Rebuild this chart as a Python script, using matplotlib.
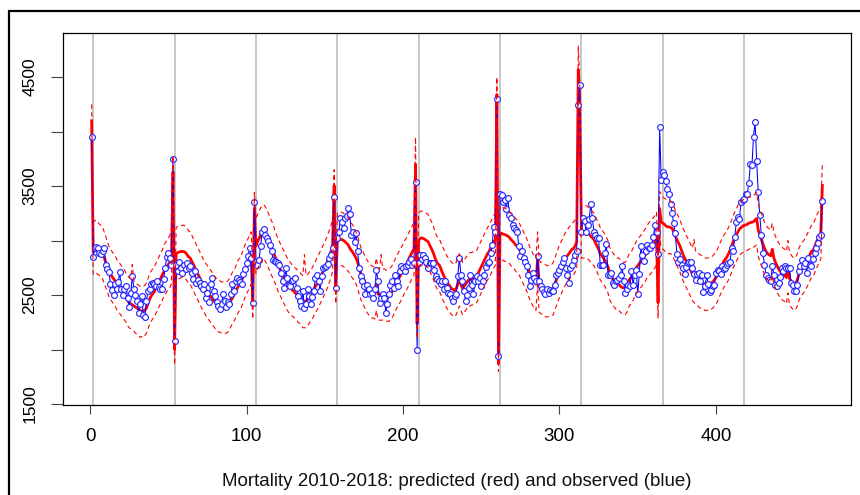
#!/usr/bin/env python
"""Weekly mortality 2010-2018: model prediction with its band against observed deaths."""

from pathlib import Path

import matplotlib

matplotlib.use("Agg")
import matplotlib.pyplot as plt
import numpy as np
from matplotlib.patches import Rectangle


OUTPUT_PATH = Path("out.png")

# observed weekly deaths, one block of 52 weeks per year
OBSERVED = [
    3950, 2850, 2930, 2940, 2930, 2885, 2880, 2900, 2935, 2780, 2740, 2712, 2603,
    2550, 2497, 2600, 2555, 2620, 2710, 2555, 2505, 2560, 2580, 2470, 2390, 2520,
    2673, 2560, 2505, 2450, 2340, 2420, 2495, 2315, 2300, 2445, 2537, 2560, 2600,
    2615, 2600, 2585, 2627, 2570, 2560, 2555, 2645, 2750, 2846, 2885, 2840, 2780,
    3750, 2080, 2780, 2720, 2800, 2750, 2700, 2780, 2740, 2790, 2750, 2765, 2700,
    2650, 2720, 2610, 2640, 2610, 2580, 2560, 2600, 2476, 2520, 2440, 2600, 2658,
    2540, 2490, 2440, 2400, 2370, 2420, 2510, 2450, 2390, 2440, 2420, 2510, 2600,
    2540, 2630, 2658, 2640, 2620, 2600, 2690, 2740, 2794, 2860, 2930, 2840, 2430,
    3355, 2800, 2779, 2825, 2950, 3082, 3106, 3052, 3020, 2997, 2960, 2900, 2825,
    2810, 2800, 2794, 2779, 2700, 2627, 2567, 2749, 2658, 2597, 2582, 2627, 2640,
    2658, 2567, 2491, 2446, 2400, 2537, 2385, 2415, 2552, 2490, 2415, 2480, 2540,
    2658, 2688, 2627, 2540, 2673, 2749, 2760, 2770, 2785, 2840, 2864, 2930, 3400,
    2567, 3021, 3082, 3203, 3173, 3112, 3209, 3227, 3300, 3240, 3052, 3082, 2991,
    3067, 2900, 2749, 2673, 2627, 2582, 2512, 2597, 2560, 2506, 2520, 2476, 2552,
    2734, 2627, 2430, 2475, 2506, 2476, 2340, 2420, 2506, 2597, 2627, 2567, 2688,
    2627, 2582, 2718, 2764, 2749, 2718, 2764, 2779, 2800, 2830, 2779, 2790, 3540,
    2000, 2794, 2870, 2830, 2870, 2840, 2800, 2750, 2790, 2790, 2795, 2730, 2673,
    2650, 2630, 2600, 2627, 2552, 2627, 2567, 2521, 2506, 2470, 2446, 2491, 2512,
    2673, 2840, 2688, 2627, 2537, 2446, 2500, 2567, 2688, 2597, 2506, 2627, 2673,
    2627, 2658, 2582, 2627, 2688, 2760, 2794, 2800, 2885, 2960, 3127, 3082, 4300,
    1937, 3430, 3415, 3355, 3370, 3294, 3391, 3233, 3210, 3143, 3120, 3100, 3082,
    2946, 2855, 2900, 2840, 2800, 2764, 2688, 2582, 2640, 2700, 2660, 2627, 2855,
    2627, 2582, 2560, 2530, 2506, 2552, 2521, 2550, 2535, 2540, 2597, 2688, 2700,
    2734, 2764, 2800, 2840, 2750, 2688, 2612, 2749, 2779, 2825, 2870, 2900, 4248,
    4430, 3082, 3203, 3180, 3082, 3140, 3200, 3340, 3203, 3082, 3052, 3021, 3020,
    2780, 2779, 2779, 2885, 2967, 2688, 2688, 2700, 2612, 2597, 2630, 2640, 2660,
    2688, 2764, 2630, 2521, 2560, 2597, 2582, 2718, 2597, 2688, 2734, 2512, 2690,
    2946, 2870, 2810, 2900, 2960, 2930, 2930, 2960, 3036, 3143, 3082, 2876, 4042,
    3560, 3627, 3600, 3550, 3470, 3430, 3340, 3250, 3158, 3067, 2880, 2800, 2830,
    2780, 2750, 2690, 2760, 2790, 2800, 2800, 2750, 2690, 2642, 2690, 2700, 2630,
    2680, 2527, 2580, 2680, 2600, 2527, 2550, 2580, 2597, 2700, 2734, 2720, 2690,
    2764, 2740, 2750, 2780, 2794, 2800, 2930, 2900, 3030, 3167, 3220, 3200, 3355,
    3370, 3385, 3430, 3430, 3527, 3703, 3690, 3955, 4090, 3733, 3445, 3233, 3052,
    2885, 2779, 2688, 2660, 2640, 2625, 2764, 2688, 2597, 2582, 2612, 2670, 2749,
    2718, 2764, 2750, 2750, 2749, 2612, 2597, 2534, 2534, 2597, 2718, 2764, 2825,
    2764, 2794, 2700, 2840, 2779, 2764, 2830, 2885, 2930, 2980, 3036, 3052, 3361,
]

PREDICTED = [
    4100, 2900, 2910, 2930, 2920, 2910, 2900, 2890, 2850, 2800, 2760, 2720, 2690,
    2670, 2650, 2630, 2600, 2580, 2560, 2540, 2520, 2500, 2480, 2450, 2430, 2420,
    2410, 2400, 2390, 2380, 2370, 2360, 2355, 2355, 2360, 2380, 2420, 2460, 2490,
    2510, 2530, 2560, 2590, 2620, 2650, 2680, 2710, 2740, 2760, 2780, 2800, 2840,
    3630, 2000, 2880, 2890, 2895, 2900, 2900, 2900, 2890, 2870, 2850, 2840, 2810,
    2780, 2750, 2718, 2690, 2660, 2630, 2600, 2575, 2550, 2530, 2510, 2490, 2470,
    2450, 2430, 2415, 2400, 2395, 2390, 2385, 2385, 2390, 2400, 2420, 2450, 2475,
    2500, 2530, 2560, 2590, 2600, 2640, 2680, 2720, 2750, 2780, 2810, 2840, 2430,
    3294, 2950, 2990, 3020, 3050, 3075, 3082, 3060, 3030, 3000, 2960, 2930, 2900,
    2860, 2820, 2780, 2750, 2720, 2690, 2660, 2630, 2600, 2580, 2567, 2550, 2540,
    2520, 2506, 2490, 2475, 2460, 2446, 2440, 2445, 2460, 2480, 2500, 2520, 2550,
    2580, 2600, 2630, 2660, 2690, 2720, 2750, 2779, 2820, 2860, 2900, 2960, 3506,
    2567, 3000, 3005, 3010, 3010, 3000, 2990, 2975, 2960, 2930, 2910, 2890, 2865,
    2840, 2800, 2750, 2700, 2670, 2640, 2610, 2580, 2560, 2540, 2530, 2525, 2520,
    2600, 2510, 2508, 2506, 2505, 2500, 2495, 2495, 2500, 2510, 2530, 2560, 2590,
    2620, 2650, 2670, 2700, 2730, 2760, 2780, 2810, 2840, 2870, 2900, 2920, 3700,
    2240, 3000, 3020, 3025, 3020, 3010, 3000, 2990, 2960, 2930, 2900, 2860, 2820,
    2790, 2779, 2750, 2710, 2680, 2650, 2620, 2600, 2580, 2560, 2552, 2540, 2560,
    2600, 2640, 2600, 2560, 2580, 2600, 2620, 2640, 2645, 2650, 2655, 2660, 2670,
    2700, 2730, 2760, 2790, 2820, 2850, 2880, 2900, 2930, 2960, 2990, 3010, 4340,
    1870, 3070, 3067, 3060, 3055, 3050, 3040, 3030, 3010, 2995, 2980, 2960, 2945,
    2930, 2900, 2870, 2840, 2810, 2779, 2740, 2700, 2670, 2640, 2620, 2600, 2840,
    2580, 2567, 2560, 2550, 2540, 2537, 2535, 2540, 2545, 2560, 2600, 2640, 2680,
    2718, 2750, 2780, 2810, 2840, 2860, 2880, 2900, 2920, 2930, 2950, 2990, 4570,
    4200, 3082, 3085, 3085, 3080, 3070, 3060, 3040, 3025, 3010, 2980, 2950, 2920,
    2880, 2860, 2840, 2820, 2790, 2760, 2700, 2670, 2650, 2630, 2610, 2600, 2597,
    2580, 2570, 2567, 2560, 2580, 2620, 2650, 2660, 2690, 2720, 2749, 2770, 2790,
    2810, 2830, 2850, 2870, 2900, 2920, 2935, 2950, 2970, 2990, 3021, 2430, 3294,
    3173, 3160, 3150, 3135, 3127, 3125, 3120, 3112, 3080, 3040, 3010, 2980, 2950,
    2910, 2870, 2840, 2810, 2780, 2750, 2720, 2690, 2670, 2660, 2650, 2635, 2627,
    2620, 2610, 2600, 2597, 2600, 2605, 2610, 2620, 2640, 2660, 2680, 2718, 2750,
    2780, 2810, 2830, 2850, 2880, 2910, 2950, 2990, 3020, 3050, 3080, 3105, 3120,
    3130, 3140, 3143, 3150, 3160, 3165, 3170, 3173, 3190, 3203, 3100, 3052, 3010,
    2970, 2930, 2900, 2880, 2870, 2860, 2920, 2840, 2800, 2770, 2740, 2718, 2700,
    2690, 2680, 2660, 2760, 2650, 2630, 2610, 2597, 2610, 2640, 2690, 2718, 2740,
    2760, 2780, 2810, 2840, 2870, 2900, 2910, 2940, 2980, 3010, 3040, 3070, 3506,
]

UPPER = [
    4250, 3170, 3180, 3190, 3170, 3150, 3140, 3120, 3080, 3040, 2990, 2950, 2920,
    2900, 2880, 2860, 2830, 2810, 2790, 2770, 2750, 2730, 2700, 2680, 2660, 2650,
    2780, 2630, 2610, 2600, 2590, 2580, 2580, 2580, 2590, 2610, 2650, 2690, 2720,
    2740, 2760, 2790, 2820, 2850, 2880, 2910, 2940, 2980, 3000, 3020, 3050, 3090,
    3780, 2250, 3120, 3130, 3140, 3140, 3140, 3140, 3130, 3110, 3090, 3080, 3050,
    3020, 2990, 2960, 2930, 2900, 2870, 2840, 2810, 2790, 2770, 2750, 2730, 2710,
    2690, 2660, 2650, 2630, 2630, 2620, 2620, 2620, 2620, 2630, 2650, 2680, 2710,
    2730, 2760, 2800, 2830, 2840, 2880, 2920, 2960, 2990, 3020, 3050, 3080, 2680,
    3440, 3200, 3240, 3270, 3300, 3320, 3330, 3310, 3280, 3250, 3210, 3180, 3150,
    3100, 3060, 3020, 2990, 2960, 2930, 2900, 2870, 2840, 2820, 2800, 2780, 2770,
    2750, 2740, 2720, 2710, 2690, 2680, 2870, 2680, 2690, 2710, 2730, 2750, 2780,
    2810, 2840, 2870, 2900, 2930, 2960, 2990, 3020, 3060, 3100, 3140, 3200, 3650,
    2800, 3250, 3250, 3260, 3260, 3250, 3240, 3220, 3210, 3180, 3160, 3140, 3110,
    3080, 3040, 2990, 2940, 2910, 2880, 2850, 2820, 2800, 2780, 2770, 2760, 2760,
    2840, 2750, 2740, 2870, 2740, 2740, 2730, 2730, 2740, 2750, 2770, 2800, 2830,
    2860, 2890, 2910, 2940, 2970, 3000, 3020, 3050, 3080, 3110, 3140, 3160, 3950,
    2450, 3250, 3270, 3270, 3270, 3260, 3250, 3240, 3210, 3180, 3150, 3100, 3060,
    3030, 3020, 2990, 2950, 2920, 2890, 2860, 2840, 2820, 2800, 2790, 2780, 2800,
    2840, 2880, 2840, 2800, 2820, 2840, 2860, 2880, 2890, 2890, 2900, 2900, 2910,
    2940, 2970, 3000, 3030, 3060, 3090, 3120, 3140, 3170, 3200, 3230, 3250, 4500,
    2100, 3320, 3310, 3300, 3300, 3290, 3280, 3270, 3250, 3240, 3220, 3200, 3190,
    3170, 3140, 3110, 3080, 3050, 3020, 2980, 2940, 2910, 2880, 2860, 2840, 3080,
    2820, 2800, 2800, 2790, 2780, 2770, 2770, 2780, 2780, 2800, 2840, 2880, 2920,
    2960, 2990, 3020, 3050, 3080, 3100, 3120, 3140, 3160, 3170, 3190, 3230, 4790,
    4450, 3330, 3330, 3330, 3320, 3310, 3300, 3280, 3270, 3250, 3220, 3190, 3160,
    3120, 3100, 3080, 3060, 3030, 3000, 2940, 2910, 2890, 2870, 2850, 2840, 2840,
    2820, 2810, 2800, 2800, 2820, 2860, 2890, 2900, 2930, 2960, 2990, 3010, 3030,
    3050, 3070, 3090, 3110, 3140, 3160, 3180, 3190, 3210, 3230, 3260, 2670, 3450,
    3420, 3400, 3390, 3380, 3370, 3370, 3360, 3350, 3320, 3280, 3250, 3220, 3190,
    3150, 3110, 3080, 3050, 3020, 2990, 2960, 2930, 3010, 2900, 2890, 2880, 2870,
    2860, 2850, 2840, 2840, 2840, 2850, 2850, 2860, 2880, 2900, 2920, 2960, 2990,
    3020, 3050, 3070, 3090, 3120, 3150, 3190, 3230, 3260, 3290, 3320, 3350, 3360,
    3370, 3380, 3380, 3390, 3400, 3400, 3410, 3410, 3430, 3440, 3340, 3290, 3250,
    3210, 3170, 3140, 3120, 3110, 3100, 3160, 3080, 3040, 3010, 2980, 2960, 2940,
    2930, 2920, 2900, 3000, 2890, 2870, 2850, 2840, 2850, 2880, 2930, 2960, 2980,
    3000, 3020, 3050, 3080, 3110, 3140, 3150, 3180, 3220, 3250, 3280, 3310, 3700,
]

LOWER = [
    3800, 2690, 2700, 2700, 2690, 2680, 2660, 2650, 2610, 2570, 2530, 2490, 2460,
    2440, 2420, 2400, 2370, 2350, 2330, 2310, 2290, 2270, 2250, 2220, 2200, 2190,
    2180, 2170, 2150, 2140, 2130, 2110, 2120, 2110, 2130, 2150, 2190, 2230, 2260,
    2280, 2300, 2330, 2360, 2390, 2420, 2450, 2480, 2510, 2530, 2550, 2570, 2600,
    3380, 1860, 2640, 2650, 2650, 2660, 2660, 2660, 2650, 2630, 2610, 2600, 2570,
    2540, 2510, 2480, 2450, 2420, 2390, 2360, 2340, 2310, 2290, 2270, 2250, 2230,
    2210, 2190, 2180, 2160, 2160, 2150, 2150, 2150, 2150, 2160, 2180, 2210, 2240,
    2260, 2290, 2320, 2350, 2360, 2400, 2440, 2480, 2510, 2540, 2570, 2600, 2280,
    3050, 2700, 2740, 2770, 2800, 2830, 2840, 2810, 2780, 2750, 2710, 2680, 2650,
    2620, 2580, 2540, 2510, 2480, 2450, 2420, 2390, 2360, 2340, 2330, 2310, 2300,
    2280, 2270, 2250, 2240, 2220, 2200, 2200, 2200, 2220, 2240, 2260, 2280, 2310,
    2340, 2360, 2390, 2420, 2450, 2480, 2510, 2540, 2580, 2620, 2660, 2720, 3250,
    2420, 2760, 2760, 2770, 2770, 2760, 2750, 2730, 2720, 2690, 2670, 2650, 2620,
    2600, 2560, 2510, 2460, 2430, 2400, 2370, 2340, 2320, 2300, 2290, 2290, 2280,
    2360, 2270, 2270, 2270, 2270, 2260, 2260, 2260, 2260, 2270, 2290, 2320, 2350,
    2380, 2410, 2430, 2460, 2490, 2520, 2540, 2570, 2600, 2630, 2660, 2680, 3450,
    2100, 2760, 2780, 2780, 2780, 2770, 2760, 2750, 2720, 2690, 2660, 2620, 2580,
    2550, 2540, 2510, 2470, 2440, 2410, 2380, 2360, 2340, 2320, 2310, 2300, 2320,
    2360, 2400, 2360, 2320, 2340, 2360, 2380, 2400, 2400, 2410, 2410, 2420, 2430,
    2460, 2490, 2520, 2550, 2580, 2610, 2640, 2660, 2690, 2720, 2750, 2770, 4100,
    1800, 2830, 2820, 2820, 2810, 2810, 2800, 2790, 2770, 2750, 2740, 2720, 2700,
    2690, 2660, 2630, 2600, 2570, 2540, 2500, 2460, 2430, 2400, 2380, 2360, 2600,
    2340, 2330, 2320, 2310, 2300, 2300, 2300, 2300, 2310, 2320, 2360, 2400, 2440,
    2480, 2510, 2540, 2570, 2600, 2620, 2640, 2660, 2680, 2690, 2710, 2750, 4300,
    3950, 2840, 2840, 2840, 2840, 2830, 2820, 2800, 2780, 2770, 2740, 2710, 2680,
    2640, 2620, 2600, 2580, 2550, 2520, 2460, 2430, 2410, 2390, 2370, 2360, 2360,
    2340, 2330, 2330, 2320, 2340, 2380, 2410, 2420, 2450, 2480, 2510, 2530, 2550,
    2570, 2590, 2610, 2630, 2660, 2680, 2690, 2710, 2730, 2750, 2780, 2290, 3050,
    2930, 2920, 2910, 2890, 2880, 2880, 2880, 2870, 2840, 2800, 2770, 2740, 2710,
    2670, 2630, 2600, 2570, 2540, 2510, 2480, 2450, 2430, 2420, 2410, 2390, 2380,
    2380, 2370, 2360, 2360, 2360, 2360, 2370, 2380, 2400, 2420, 2440, 2480, 2510,
    2540, 2570, 2590, 2610, 2640, 2670, 2710, 2750, 2780, 2810, 2840, 2860, 2880,
    2890, 2900, 2900, 2910, 2920, 2930, 2930, 2940, 2950, 2960, 2860, 2810, 2770,
    2730, 2690, 2660, 2640, 2630, 2620, 2680, 2600, 2560, 2530, 2500, 2480, 2460,
    2450, 2440, 2420, 2520, 2410, 2390, 2370, 2360, 2370, 2400, 2450, 2480, 2500,
    2520, 2540, 2570, 2600, 2630, 2660, 2670, 2700, 2740, 2770, 2800, 2830, 3300,
]

YEAR_LINES = [2, 54, 106, 158, 210, 262, 314, 366, 418]
X_TICKS = [0, 100, 200, 300, 400]
Y_TICKS = [1500, 2000, 2500, 3000, 3500, 4000, 4500]
Y_TICK_LABELS = ["1500", "", "2500", "", "3500", "", "4500"]
X_LABEL = "Mortality 2010-2018: predicted (red) and observed (blue)"

FIG_W, FIG_H = 860, 495
BOX = (63, 32.5, 851, 405)  # left, top, right, bottom in pixels


def plot_mortality(output_path: Path) -> None:
    plt.rcParams["font.family"] = ["Liberation Sans", "DejaVu Sans"]
    weeks = np.arange(1, len(OBSERVED) + 1)

    figure = plt.figure(figsize=(FIG_W / 100, FIG_H / 100), dpi=100)
    left, top, right, bottom = BOX
    axis = figure.add_axes(
        [left / FIG_W, 1 - bottom / FIG_H, (right - left) / FIG_W, (bottom - top) / FIG_H]
    )

    for week in YEAR_LINES:
        axis.axvline(week, color="#bebebe", linewidth=1.2, zorder=0)
    axis.plot(weeks, PREDICTED, color="#ff0000", linewidth=2.0, zorder=2)
    axis.plot(
        weeks, OBSERVED, color="#0000ff", linewidth=0.75, marker="o", markersize=4.2,
        markerfacecolor="white", markeredgecolor="#2a2aff", markeredgewidth=0.85, zorder=3,
    )
    for band in (UPPER, LOWER):
        axis.plot(weeks, band, color="#ff0000", linewidth=0.8, linestyle=(0, (4, 3)), zorder=4)

    axis.set_xlim(-17.3, 486.3)
    axis.set_ylim(1491, 4910)
    axis.set_xticks(X_TICKS)
    axis.set_yticks(Y_TICKS, Y_TICK_LABELS)
    for label in axis.get_yticklabels():
        label.set_rotation(90)
        label.set_verticalalignment("center")
    axis.tick_params(axis="x", length=6.5, width=0.8, color="#444444", pad=10, labelsize=13.5)
    axis.tick_params(axis="y", length=8.5, width=0.8, color="#444444", pad=10, labelsize=12.5)
    for spine in axis.spines.values():
        spine.set_color("black")
        spine.set_linewidth(0.9)

    figure.text(
        (left + right) / 2 / FIG_W, 1 - 482 / FIG_H, X_LABEL,
        ha="center", va="center", fontsize=13.5, color="#111111",
    )
    # outer frame of the original export, open to the right and bottom
    figure.patches.append(
        Rectangle(
            (9 / FIG_W, -0.1), 1.2, 1 - 10.5 / FIG_H + 0.1, transform=figure.transFigure,
            fill=False, edgecolor="black", linewidth=1.6,
        )
    )
    figure.savefig(output_path, dpi=100, facecolor="white")
    plt.close(figure)


def main() -> None:
    plot_mortality(OUTPUT_PATH)


if __name__ == "__main__":
    main()
